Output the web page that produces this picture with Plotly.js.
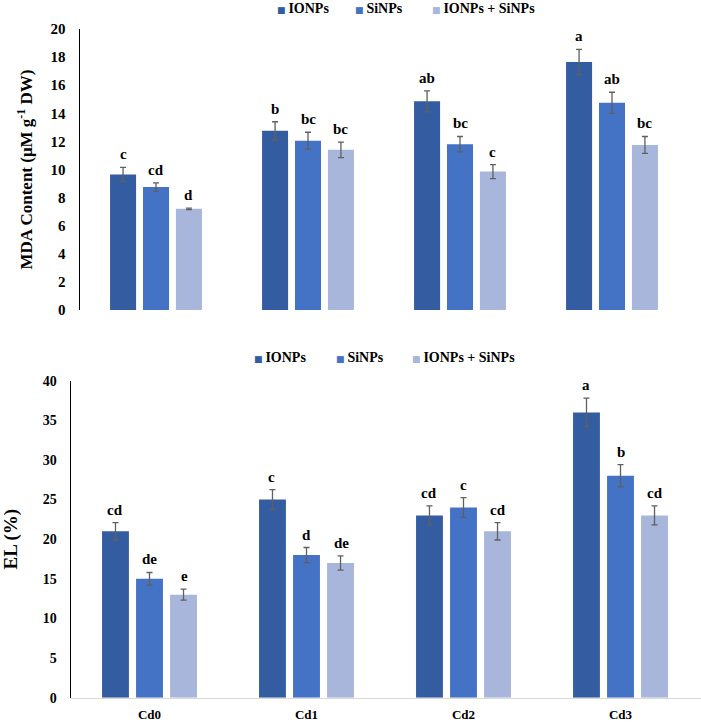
<!DOCTYPE html>
<html>
<head>
<meta charset="utf-8">
<script src="https://cdn.plot.ly/plotly-3.0.1.min.js"></script>
<style>html,body{margin:0;padding:0;background:#fff;} #chart{width:701px;height:722px;}</style>
</head>
<body>
<div id="chart"></div>
<script>
// ---- data ----
const categories = ['Cd0', 'Cd1', 'Cd2', 'Cd3'];
const seriesNames = ['IONPs', 'SiNPs', 'IONPs + SiNPs'];

const mdaIONPs = [9.65, 12.75, 14.85, 17.65];
const mdaIONPsErr = [0.5, 0.65, 0.75, 0.9];
const mdaSiNPs = [8.75, 12.05, 11.8, 14.75];
const mdaSiNPsErr = [0.3, 0.6, 0.55, 0.75];
const mdaBoth = [7.2, 11.4, 9.85, 11.75];
const mdaBothErr = [0.05, 0.55, 0.5, 0.6];
const mdaLettersIONPs = ['c', 'b', 'ab', 'a'];
const mdaLettersSiNPs = ['cd', 'bc', 'bc', 'ab'];
const mdaLettersBoth = ['d', 'bc', 'c', 'bc'];

const elIONPs = [21, 25, 23, 36];
const elIONPsErr = [1.1, 1.25, 1.2, 1.8];
const elSiNPs = [15, 18, 24, 28];
const elSiNPsErr = [0.8, 0.95, 1.25, 1.4];
const elBoth = [13, 17, 21, 23];
const elBothErr = [0.7, 0.9, 1.1, 1.2];
const elLettersIONPs = ['cd', 'c', 'cd', 'a'];
const elLettersSiNPs = ['de', 'd', 'c', 'b'];
const elLettersBoth = ['e', 'de', 'cd', 'cd'];

const yTickValsMDA = [0, 2, 4, 6, 8, 10, 12, 14, 16, 18, 20];
const yTickValsEL = [0, 5, 10, 15, 20, 25, 30, 35, 40];

// ---- style ----
const colors = ['#345DA1', '#4472C4', '#A8B6DB'];
const FONT = 'Liberation Serif, Times New Roman, serif';
const W = 701, H = 722;
const errStyle = {type: 'data', visible: true, color: '#5f5f5f', thickness: 1.3, width: 3};

const topBargap = 0.35, botBargap = 0.34;

function mkBar(name, y, err, i, xa, ya) {
  return {
    type: 'bar', name: name, x: categories, y: y,
    error_y: Object.assign({array: err}, errStyle),
    marker: {color: colors[i], line: {width: 0}},
    xaxis: xa, yaxis: ya, showlegend: false,
    hoverinfo: 'y'
  };
}

const mdaVals = [mdaIONPs, mdaSiNPs, mdaBoth];
const mdaErrs = [mdaIONPsErr, mdaSiNPsErr, mdaBothErr];
const mdaLetters = [mdaLettersIONPs, mdaLettersSiNPs, mdaLettersBoth];
const elVals = [elIONPs, elSiNPs, elBoth];
const elErrs = [elIONPsErr, elSiNPsErr, elBothErr];
const elLetters = [elLettersIONPs, elLettersSiNPs, elLettersBoth];

const traces = [];
for (let i = 0; i < 3; i++) traces.push(mkBar(seriesNames[i], mdaVals[i], mdaErrs[i], i, 'x', 'y'));
for (let i = 0; i < 3; i++) traces.push(mkBar(seriesNames[i], elVals[i], elErrs[i], i, 'x2', 'y2'));

const annotations = [];
function addLetters(vals, errs, letters, bargap, xref, yref) {
  const slot = (1 - bargap) / 3;
  for (let j = 0; j < 3; j++) {
    for (let k = 0; k < categories.length; k++) {
      annotations.push({
        xref: xref, yref: yref,
        x: k + (j - 1) * slot, y: vals[j][k] + errs[j][k],
        text: '<b>' + letters[j][k] + '</b>',
        showarrow: false, yanchor: 'bottom', yshift: 3,
        font: {family: FONT, size: 15, color: '#000'}
      });
    }
  }
}
addLetters(mdaVals, mdaErrs, mdaLetters, topBargap, 'x', 'y');
addLetters(elVals, elErrs, elLetters, botBargap, 'x2', 'y2');

// legend rows (coloured square + series name)
function addLegend(xs, yPx) {
  for (let i = 0; i < 3; i++) {
    annotations.push({
      xref: 'paper', yref: 'paper', x: xs[i] / W, y: 1 - yPx / H,
      xanchor: 'left', yanchor: 'middle', showarrow: false, borderpad: 0,
      text: '<span style="color:' + colors[i] + ';font-size:9px;font-family:DejaVu Sans">■ </span><b>' + seriesNames[i] + '</b>',
      font: {family: FONT, size: 14, color: '#000'}
    });
  }
}
addLegend([276, 354, 431], 8);
addLegend([253, 335, 411], 357);

const tickFontTop = {family: FONT, size: 15, color: '#000', weight: 'bold'};
const tickFontBot = {family: FONT, size: 14, color: '#000', weight: 'bold'};

const layout = {
  width: W, height: H,
  margin: {l: 0, r: 0, t: 0, b: 0},
  paper_bgcolor: '#fff', plot_bgcolor: '#fff',
  barmode: 'group', bargap: 0.35, bargroupgap: 0.21,
  showlegend: false,
  font: {family: FONT, color: '#000'},
  xaxis: {
    domain: [80 / W, 688 / W], anchor: 'y', type: 'category',
    range: [-0.5, 3.5], showticklabels: false, showline: false, ticks: '',
    showgrid: false, zeroline: false, fixedrange: true
  },
  yaxis: {
    domain: [1 - 310 / H, 1 - 29 / H], anchor: 'x',
    range: [0, 20], tickvals: yTickValsMDA, ticks: '',
    showline: true, linecolor: '#000', linewidth: 1.5,
    showgrid: false, zeroline: false, tickfont: tickFontTop, ticklabelstandoff: 10,
    title: {text: 'MDA Content (μM g<sup>-1</sup> DW)', font: {family: FONT, size: 17, color: '#000', weight: 'bold'}, standoff: 13},
    automargin: false
  },
  xaxis2: {
    domain: [71 / W, 1], anchor: 'y2', type: 'category',
    range: [-0.5, -0.5 + 630 / 157], showticklabels: true, showline: true,
    linecolor: '#d9d9d9', linewidth: 1.5, ticks: '',
    showgrid: false, zeroline: false, tickfont: {family: FONT, size: 13, color: '#000', weight: 'bold'}, ticklabelstandoff: 4,
    automargin: false
  },
  yaxis2: {
    domain: [1 - 697.7 / H, 1 - 380.7 / H], anchor: 'x2',
    range: [0, 40], tickvals: yTickValsEL, ticks: '',
    showline: true, linecolor: '#000', linewidth: 1.5,
    showgrid: false, zeroline: false, tickfont: tickFontBot, ticklabelstandoff: 10,
    title: {text: 'EL (%)', font: {family: FONT, size: 19, color: '#000', weight: 'bold'}, standoff: 30},
    automargin: false
  },
  annotations: annotations
};

Plotly.newPlot('chart', traces, layout, {displayModeBar: false, responsive: false, staticPlot: true});
</script>
</body>
</html>
